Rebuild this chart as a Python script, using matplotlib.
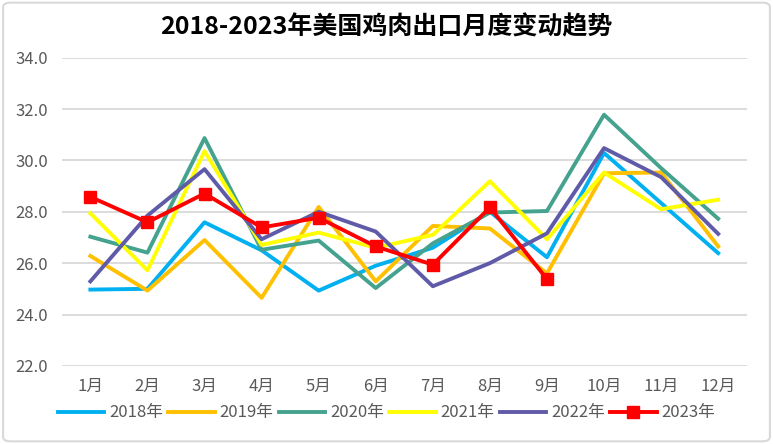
import matplotlib.pyplot as plt
from matplotlib.patches import FancyBboxPatch

plt.rcParams['font.family'] = ['Noto Sans CJK SC', 'DejaVu Sans']

# 月份和各年数据
months = ['1月', '2月', '3月', '4月', '5月', '6月', '7月', '8月', '9月', '10月', '11月', '12月']
y2018 = [24.97, 25.0, 27.59, 26.5, 24.93, 25.9, 26.6, 28.0, 26.23, 30.29, 28.34, 26.39]
y2019 = [26.28, 24.93, 26.9, 24.65, 28.19, 25.29, 27.45, 27.35, 25.6, 29.5, 29.53, 26.65]
y2020 = [27.03, 26.41, 30.87, 26.52, 26.88, 25.03, 26.77, 27.97, 28.03, 31.78, 29.7, 27.73]
y2021 = [27.94, 25.72, 30.36, 26.71, 27.19, 26.6, 27.1, 29.19, 26.93, 29.53, 28.1, 28.47]
y2022 = [25.29, 27.85, 29.66, 26.93, 28.0, 27.23, 25.1, 26.0, 27.16, 30.48, 29.35, 27.14]
y2023 = [28.58, 27.59, 28.71, 27.39, 27.77, 26.65, 25.94, 28.17, 25.38]

series = [
    ('2018年', y2018, '#00B0F0'),
    ('2019年', y2019, '#FFC000'),
    ('2020年', y2020, '#45A28E'),
    ('2021年', y2021, '#FFFF00'),
    ('2022年', y2022, '#5F5BA8'),
]

fig = plt.figure(figsize=(7.73, 4.44), dpi=100)
fig.patches.append(FancyBboxPatch((0.004, 0.006), 0.992, 0.988,
                                  boxstyle='round,pad=0,rounding_size=0.01',
                                  transform=fig.transFigure, facecolor='white',
                                  edgecolor='#D9D9D9', linewidth=1.5, zorder=-1))
ax = fig.add_axes([0.080, 0.176, 0.886, 0.694])

x = list(range(1, 13))
for name, vals, col in series:
    ax.plot(x, vals, color=col, linewidth=2.8, label=name)
ax.plot(x[:len(y2023)], y2023, color='#FF0000', linewidth=2.8, marker='s',
        markersize=9, label='2023年')

ax.set_xlim(0.5, 12.5)
ax.set_ylim(22, 34)
ax.set_yticks([22, 24, 26, 28, 30, 32, 34])
ax.set_yticklabels(['%.1f' % v for v in [22, 24, 26, 28, 30, 32, 34]])
ax.set_xticks(x)
ax.set_xticklabels(months)
ax.tick_params(length=0, labelsize=12, colors='#595959')
ax.tick_params(axis='x', pad=9)
ax.tick_params(axis='y', pad=10)
ax.grid(axis='y', color='#D9D9D9', linewidth=1.3)
ax.set_axisbelow(True)
for s in ax.spines.values():
    s.set_visible(False)

fig.text(0.5, 0.938, '2018-2023年美国鸡肉出口月度变动趋势', ha='center', va='center',
         fontsize=18, fontweight='bold')

fig.legend(loc='center', bbox_to_anchor=(0.5, 0.07), ncol=6, frameon=False,
           fontsize=12, handlelength=2.8, handletextpad=0.3, columnspacing=0.3,
           labelcolor='#595959')

fig.savefig('out.png', dpi=100)
